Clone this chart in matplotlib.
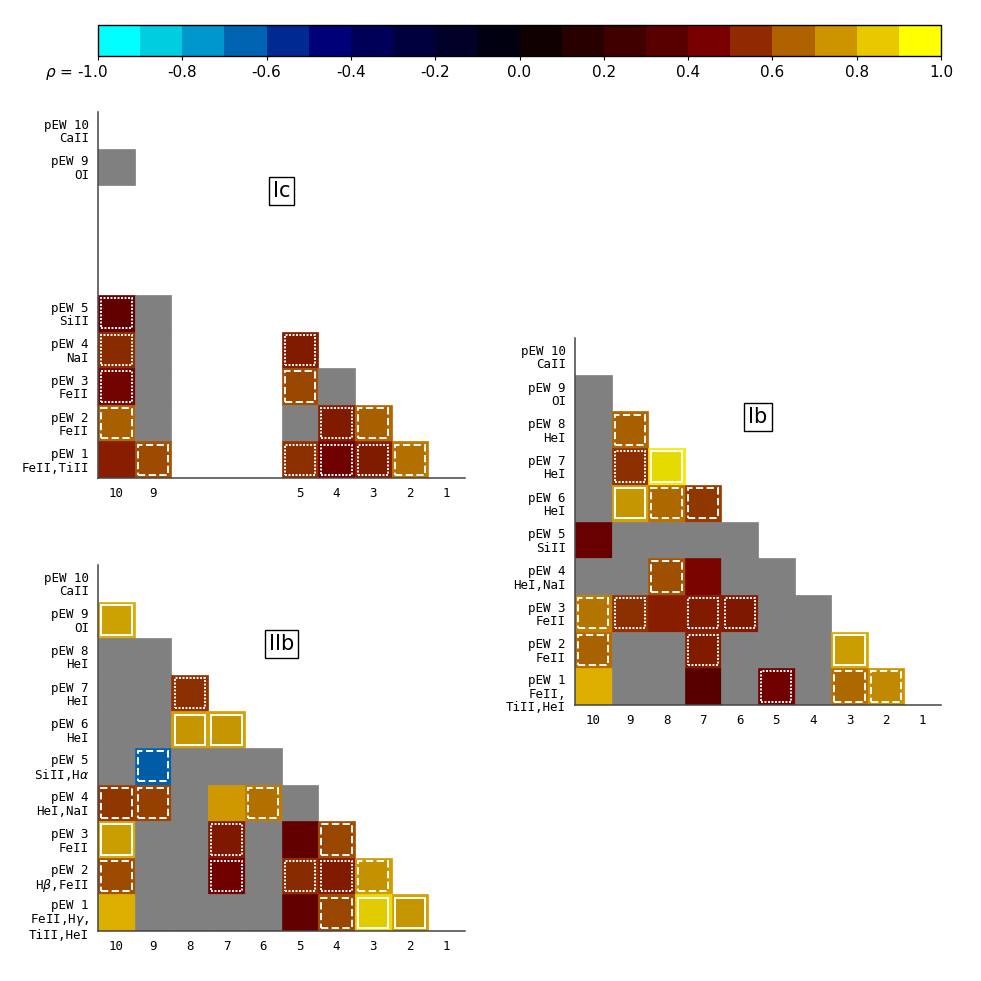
import numpy as np
import matplotlib
matplotlib.use("Agg")
import matplotlib.pyplot as plt
from matplotlib.colors import LinearSegmentedColormap, Normalize
from matplotlib.cm import ScalarMappable
from matplotlib.patches import Rectangle

nan = np.nan

# colours of the 20 colorbar bins, from rho=-1 to rho=1
bin_colors = ['#00ffff', '#00cce0', '#0099cc', '#0060b0', '#002890',
              '#000078', '#000058', '#000040', '#000028', '#000010',
              '#100000', '#280000', '#400000', '#580000', '#780000',
              '#902800', '#b06000', '#cc9000', '#e8c800', '#ffff00']
cbar_ticks = np.round(np.arange(-1.0, 1.01, 0.2), 1) + 0.0

# rows: feature number -> rho for columns 10, 9, 8, ... (None = not in sample, nan = gray)
# style codes: s solid, d dashed, o dotted, . no box
ic_rows = [10, 9, 5, 4, 3, 2, 1]
ic_cols = [10, 9, 5, 4, 3, 2, 1]
ic_rho = {
    9: [nan],
    5: [0.40, nan, None, None, None],
    4: [0.56, nan, None, None, None, 0.52],
    3: [0.46, nan, None, None, None, 0.61, nan],
    2: [0.66, nan, None, None, None, nan, 0.52, 0.66],
    1: [0.52, 0.62, None, None, None, 0.57, 0.45, 0.52, 0.70],
}
ic_style = {
    9: '.',
    5: 'o....',
    4: 'o....o',
    3: 'o....d.',
    2: 'd.....od',
    1: '.d...oood',
}
ic_labels = ['pEW 10\nCaII', 'pEW 9\nOI', 'pEW 5\nSiII', 'pEW 4\nNaI',
             'pEW 3\nFeII', 'pEW 2\nFeII', 'pEW 1\nFeII,TiII']

ib_rows = list(range(10, 0, -1))
ib_cols = list(range(10, 0, -1))
ib_rho = {
    9: [nan],
    8: [nan, 0.66],
    7: [nan, 0.57, 0.91],
    6: [nan, 0.78, 0.68, 0.58],
    5: [0.40, nan, nan, nan, nan],
    4: [nan, nan, 0.63, 0.46, nan, nan],
    3: [0.71, 0.57, 0.52, 0.52, 0.51, nan, nan],
    2: [0.67, nan, nan, 0.52, nan, nan, nan, 0.79],
    1: [0.80, nan, nan, 0.35, nan, 0.45, nan, 0.68, 0.75],
}
ib_style = {
    9: '.',
    8: '.d',
    7: '.os',
    6: '.sdd',
    5: '.....',
    4: '..d...',
    3: 'do.oo..',
    2: 'd..o...s',
    1: '.....o.dd',
}
ib_labels = ['pEW 10\nCaII', 'pEW 9\nOI', 'pEW 8\nHeI', 'pEW 7\nHeI', 'pEW 6\nHeI',
             'pEW 5\nSiII', 'pEW 4\nHeI,NaI', 'pEW 3\nFeII', 'pEW 2\nFeII',
             'pEW 1\nFeII,\nTiII,HeI']

iib_rows = list(range(10, 0, -1))
iib_cols = list(range(10, 0, -1))
iib_rho = {
    9: [0.80],
    8: [nan, nan],
    7: [nan, nan, 0.57],
    6: [nan, nan, 0.78, 0.78],
    5: [nan, -0.65, nan, nan, nan],
    4: [0.58, 0.60, nan, 0.76, 0.70, nan],
    3: [0.79, nan, nan, 0.51, nan, 0.375, 0.61],
    2: [0.62, nan, nan, 0.45, nan, 0.56, 0.52, 0.77],
    1: [0.80, nan, nan, nan, nan, 0.375, 0.61, 0.88, 0.78],
}
iib_style = {
    9: 's',
    8: '..',
    7: '..o',
    6: '..ss',
    5: '.d...',
    4: 'dd..d.',
    3: 's..o..d',
    2: 'd..o.ood',
    1: '......dss',
}
iib_labels = ['pEW 10\nCaII', 'pEW 9\nOI', 'pEW 8\nHeI', 'pEW 7\nHeI', 'pEW 6\nHeI',
              'pEW 5\nSiII,H$\\alpha$', 'pEW 4\nHeI,NaI', 'pEW 3\nFeII',
              'pEW 2\nH$\\beta$,FeII', 'pEW 1\nFeII,H$\\gamma$,\nTiII,HeI']

# continuous colormap anchored on the bin centres
centers = np.linspace(-0.95, 0.95, 20)
anchors = [(0.0, bin_colors[0])] + [((c + 1) / 2, col) for c, col in zip(centers, bin_colors)] + [(1.0, bin_colors[-1])]
cmap = LinearSegmentedColormap.from_list('rho', anchors)
norm = Normalize(-1, 1)

line_styles = {'s': '-', 'd': (0, (3.7, 1.8)), 'o': (0, (1, 0.8))}


def draw_panel(ax, rho, style, rows, cols, labels, name):
    for row, vals in rho.items():
        for k, v in enumerate(vals):
            if v is None:
                continue
            col = 10 - k
            x = 10 - col
            if np.isnan(v):
                ax.add_patch(Rectangle((x - 0.5, row - 0.5), 1, 1, fc='#808080', ec='#808080', lw=0.5))
                continue
            c = np.array(cmap(norm(v)))
            ax.add_patch(Rectangle((x - 0.5, row - 0.5), 1, 1, fc=c, ec=c, lw=0.5))
            code = style[row][k]
            if code in line_styles:
                inner = c.copy()
                inner[:3] *= 0.93
                ax.add_patch(Rectangle((x - 0.415, row - 0.415), 0.83, 0.83, fc=inner,
                                       ec='white', lw=1.4, ls=line_styles[code]))
    ax.set_xlim(-0.5, 9.5)
    ax.set_ylim(0.5, 10.5)
    ax.set_xticks([10 - c for c in cols])
    ax.set_xticklabels([str(c) for c in cols], family='DejaVu Sans Mono', fontsize=9)
    ax.set_yticks(rows)
    # three-line labels sit a bit lower than the row centre, drawn separately
    tick_text = [lab if lab.count('\n') < 2 else '' for lab in labels]
    ax.set_yticklabels(tick_text, family='DejaVu Sans Mono', fontsize=9, linespacing=1.05)
    for r, lab in zip(rows, labels):
        if lab.count('\n') >= 2:
            ax.annotate(lab, xy=(0, r), xycoords=('axes fraction', 'data'),
                        xytext=(-6.5, -5.5), textcoords='offset points',
                        ha='right', va='center', family='DejaVu Sans Mono',
                        fontsize=9, linespacing=1.05)
    ax.tick_params(length=0, pad=6.5)
    for s in ['top', 'right']:
        ax.spines[s].set_visible(False)
    for s in ['left', 'bottom']:
        ax.spines[s].set_color('#444444')
        ax.spines[s].set_linewidth(1.1)
    ax.text(4.5, 8.35, name, ha='center', va='center', fontsize=15,
            bbox=dict(boxstyle='square,pad=0.2', fc='white', ec='black', lw=1))


W = 981.0
fig = plt.figure(figsize=(9.81, 9.81), dpi=100)

cax = fig.add_axes([98 / W, (W - 56) / W, 843 / W, 31 / W])
sm = ScalarMappable(norm=norm, cmap=cmap)
cb = fig.colorbar(sm, cax=cax, orientation='horizontal',
                  boundaries=np.linspace(-1, 1, 21), values=centers)
cb.set_ticks(cbar_ticks)
cb.set_ticklabels([''] + ['%.1f' % t for t in cbar_ticks[1:]])
cb.ax.tick_params(labelsize=11, length=3)
cb.outline.set_linewidth(1)
cax.annotate('$\\rho$ = -1.0', xy=(0, 0), xycoords='axes fraction', xytext=(7, -5),
             textcoords='offset points', ha='right', va='top', fontsize=11)

ax_ic = fig.add_axes([98 / W, (W - 478) / W, 367 / W, 366 / W])
draw_panel(ax_ic, ic_rho, ic_style, ic_rows, ic_cols, ic_labels, 'Ic')

ax_ib = fig.add_axes([575 / W, (W - 705) / W, 366 / W, 367 / W])
draw_panel(ax_ib, ib_rho, ib_style, ib_rows, ib_cols, ib_labels, 'Ib')

ax_iib = fig.add_axes([98 / W, (W - 931) / W, 367 / W, 366 / W])
draw_panel(ax_iib, iib_rho, iib_style, iib_rows, iib_cols, iib_labels, 'IIb')

fig.savefig('out.png', dpi=100)
